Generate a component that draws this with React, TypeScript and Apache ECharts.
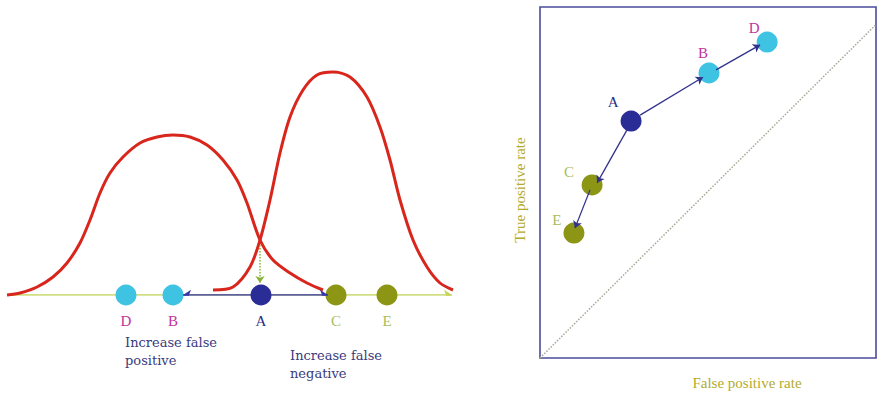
import React, { useEffect, useRef } from "react";
import * as echarts from "echarts";

// ---- Left panel: score distributions (x = score, y = density) ----
const negCurveX = [7, 20, 37, 53, 67, 80, 90, 100, 110, 123, 140, 157, 173, 190, 207, 223, 237, 247, 260, 273, 290, 307, 323];
const negCurveY = [0, 2, 8, 18, 32, 52, 75, 102, 122, 138, 152, 158, 160, 158, 150, 135, 115, 92, 55, 35, 22, 12, 5];
const posCurveX = [213, 233, 250, 260, 270, 280, 290, 303, 317, 333, 350, 367, 380, 390, 400, 413, 427, 440, 453];
const posCurveY = [5, 8, 28, 55, 95, 142, 178, 205, 220, 223, 218, 198, 168, 135, 95, 55, 28, 12, 5];

const thresholdNames = ["D", "B", "A", "C", "E"];
const thresholdScores = [126, 173, 261, 336, 387];

// ---- Right panel: ROC points ----
const rocNames = ["D", "B", "A", "C", "E"];
const rocFPR = [0.676, 0.503, 0.271, 0.155, 0.101];
const rocTPR = [0.9, 0.812, 0.675, 0.493, 0.356];
const rocLabelOffsets = [[-13, -14], [-6, -20], [-18, -19], [-23, -13], [-17, -13]];

const pointColors: Record<string, string> = {
  D: "#3ec3e2",
  B: "#3ec3e2",
  A: "#2b2d96",
  C: "#8d9514",
  E: "#8d9514",
};
const labelColors: Record<string, string> = {
  D: "#c0349c",
  B: "#c0349c",
  A: "#2b2d80",
  C: "#a9bd5a",
  E: "#a9bd5a",
};

const leftArrows = [
  [[251, 0], [183, 0]],
  [[271, 0], [328, 0]],
];
const rocArrows = [
  [[0.298, 0.692], [0.485, 0.8]],
  [[0.524, 0.821], [0.655, 0.892]],
  [[0.259, 0.65], [0.17, 0.499]],
  [[0.149, 0.479], [0.104, 0.37]],
];

const SERIF = "'Liberation Serif', 'DejaVu Serif', serif";
const SLAB = "'DejaVu Serif', 'Liberation Serif', serif";

export default function App() {
  const ref = useRef<HTMLDivElement>(null);
  useEffect(() => {
    if (!ref.current) return;
    const chart = echarts.init(ref.current, undefined, { renderer: "svg" });
    const hiddenAxis = {
      type: "value" as const,
      axisLine: { show: false },
      axisTick: { show: false },
      axisLabel: { show: false },
      splitLine: { show: false },
    };
    chart.setOption({
      animation: false,
      backgroundColor: "#ffffff",
      grid: [
        { left: 0, top: 45, width: 460, height: 250 },
        {
          left: 540,
          top: 7,
          width: 336,
          height: 351,
          show: true,
          borderColor: "#4b4b9c",
          borderWidth: 1.6,
          backgroundColor: "transparent",
        },
      ],
      xAxis: [
        { ...hiddenAxis, gridIndex: 0, min: 0, max: 460 },
        { ...hiddenAxis, gridIndex: 1, min: 0, max: 1 },
      ],
      yAxis: [
        { ...hiddenAxis, gridIndex: 0, min: 0, max: 250 },
        { ...hiddenAxis, gridIndex: 1, min: 0, max: 1 },
      ],
      graphic: [
        {
          type: "text",
          left: 125,
          top: 333,
          style: {
            text: "Increase false\npositive",
            fill: "#3a3a7c",
            font: `13px ${SLAB}`,
            lineHeight: 18,
          },
        },
        {
          type: "text",
          left: 290,
          top: 346,
          style: {
            text: "Increase false\nnegative",
            fill: "#3a3a7c",
            font: `13px ${SLAB}`,
            lineHeight: 18,
          },
        },
        {
          type: "text",
          x: 747,
          y: 383,
          style: {
            text: "False positive rate",
            fill: "#b3ab2e",
            font: `15px ${SERIF}`,
            align: "center",
            verticalAlign: "middle",
          },
        },
        {
          type: "text",
          x: 520,
          y: 190,
          rotation: Math.PI / 2,
          style: {
            text: "True positive rate",
            fill: "#b3ab2e",
            font: `15px ${SERIF}`,
            align: "center",
            verticalAlign: "middle",
          },
        },
      ],
      series: [
        // baseline with arrow
        {
          type: "lines",
          coordinateSystem: "cartesian2d",
          xAxisIndex: 0,
          yAxisIndex: 0,
          z: 1,
          symbol: ["none", "arrow"],
          symbolSize: 8,
          lineStyle: { color: "#c2d45a", width: 1.5, opacity: 1 },
          data: [{ coords: [[8, 0], [452, 0]] }],
        },
        // threshold points
        {
          type: "scatter",
          xAxisIndex: 0,
          yAxisIndex: 0,
          z: 2,
          clip: false,
          symbolSize: 21,
          data: thresholdNames.map((n, i) => ({
            name: n,
            value: [thresholdScores[i], 0],
            itemStyle: { color: pointColors[n], opacity: 1 },
            label: {
              show: true,
              formatter: n,
              position: "bottom",
              distance: 8,
              color: labelColors[n],
              fontFamily: SERIF,
              fontSize: 15,
            },
          })),
        },
        // negative distribution curve
        {
          type: "line",
          xAxisIndex: 0,
          yAxisIndex: 0,
          z: 3,
          smooth: 0.3,
          showSymbol: false,
          clip: false,
          lineStyle: { color: "#d9261c", width: 3 },
          data: negCurveX.map((x, i) => [x, negCurveY[i]]),
        },
        // positive distribution curve
        {
          type: "line",
          xAxisIndex: 0,
          yAxisIndex: 0,
          z: 3,
          smooth: 0.3,
          showSymbol: false,
          clip: false,
          lineStyle: { color: "#d9261c", width: 3 },
          data: posCurveX.map((x, i) => [x, posCurveY[i]]),
        },
        // blue arrows on left
        {
          type: "lines",
          coordinateSystem: "cartesian2d",
          xAxisIndex: 0,
          yAxisIndex: 0,
          z: 4,
          symbol: ["none", "arrow"],
          symbolSize: 8,
          lineStyle: { color: "#3737a6", width: 1.5, opacity: 1 },
          data: leftArrows.map((c) => ({ coords: c })),
        },
        // dotted green drop arrow
        {
          type: "lines",
          coordinateSystem: "cartesian2d",
          xAxisIndex: 0,
          yAxisIndex: 0,
          z: 4,
          symbol: ["none", "arrow"],
          symbolSize: 7,
          lineStyle: { color: "#86b336", width: 1.5, type: "dotted", opacity: 1 },
          data: [{ coords: [[260, 50], [260, 12]] }],
        },
        // ROC diagonal
        {
          type: "lines",
          coordinateSystem: "cartesian2d",
          xAxisIndex: 1,
          yAxisIndex: 1,
          z: 1,
          symbol: ["none", "none"],
          lineStyle: { color: "#a8a898", width: 1.5, type: "dotted", opacity: 1 },
          data: [{ coords: [[0, 0], [1, 0.95]] }],
        },
        // ROC points
        {
          type: "scatter",
          xAxisIndex: 1,
          yAxisIndex: 1,
          z: 2,
          clip: false,
          symbolSize: 21,
          data: rocNames.map((n, i) => ({
            name: n,
            value: [rocFPR[i], rocTPR[i]],
            itemStyle: { color: pointColors[n], opacity: 1 },
            label: {
              show: true,
              formatter: n,
              position: "inside",
              offset: rocLabelOffsets[i],
              color: labelColors[n],
              fontFamily: SERIF,
              fontSize: 15,
            },
          })),
        },
        // ROC arrows
        {
          type: "lines",
          coordinateSystem: "cartesian2d",
          xAxisIndex: 1,
          yAxisIndex: 1,
          z: 4,
          symbol: ["none", "arrow"],
          symbolSize: 7,
          lineStyle: { color: "#32328c", width: 1.3, opacity: 1 },
          data: rocArrows.map((c) => ({ coords: c })),
        },
      ],
    });
    return () => chart.dispose();
  }, []);
  return (
    <div
      ref={ref}
      style={{ position: "fixed", left: 0, top: 0, width: 877, height: 395, background: "#fff" }}
    />
  );
}
